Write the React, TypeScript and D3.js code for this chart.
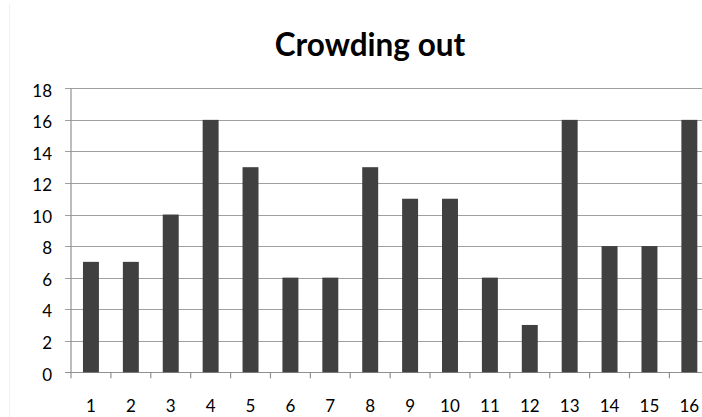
import React from "react";
import * as d3 from "d3";

const categories: string[] = ["1","2","3","4","5","6","7","8","9","10","11","12","13","14","15","16"];
const values: number[] = [7, 7, 10, 16, 13, 6, 6, 13, 11, 11, 6, 3, 16, 8, 8, 16];
const yTicks: number[] = [0, 2, 4, 6, 8, 10, 12, 14, 16, 18];
const title = "Crowding out";

const W = 702;
const H = 417;
const FONT = "Lato, Carlito, Calibri, sans-serif";

export default function App() {
  const left = 71;
  const right = 709.3;
  const top = 88.3;
  const bottom = 372.3;

  const x = d3.scaleBand<string>().domain(categories).range([left, right]).padding(0);
  const y = d3.scaleLinear().domain([0, 18]).range([bottom, top]);
  const barW = x.bandwidth() * 0.4;

  return (
    <svg
      width={W}
      height={H}
      style={{ position: "absolute", left: 0, top: 0, background: "#fff" }}
    >
      {/* chart frame edge */}
      <line x1={9.5} x2={9.5} y1={4} y2={H} stroke="#f0f0f0" strokeWidth={1} />

      <text
        x={370}
        y={56}
        textAnchor="middle"
        fontFamily={FONT}
        fontWeight="bold"
        fontSize={31.5}
        fill="#000"
      >
        {title}
      </text>

      {/* horizontal gridlines and y ticks */}
      {yTicks.map((t) => (
        <g key={t}>
          <line
            x1={left - 6}
            x2={right}
            y1={Math.round(y(t)) + 0.5}
            y2={Math.round(y(t)) + 0.5}
            stroke={t === 0 ? "#909090" : "#a0a0a0"}
            strokeWidth={1.2}
          />
          <text
            x={52}
            y={y(t) + 8.2}
            textAnchor="end"
            fontFamily={FONT}
            fontSize={17}
            fill="#000"
          >
            {t}
          </text>
        </g>
      ))}

      {/* bars */}
      {categories.map((c, i) => (
        <rect
          key={c}
          x={(x(c) as number) + (x.bandwidth() - barW) / 2}
          y={y(values[i])}
          width={barW}
          height={y(0) - y(values[i])}
          fill="#404040"
        />
      ))}

      {/* y axis line */}
      <line x1={left} x2={left} y1={top} y2={bottom + 6} stroke="#909090" strokeWidth={1.2} />

      {/* category tick marks and labels */}
      {categories.map((c) => (
        <g key={c}>
          <line
            x1={(x(c) as number) + x.bandwidth()}
            x2={(x(c) as number) + x.bandwidth()}
            y1={bottom}
            y2={bottom + 6}
            stroke="#909090"
            strokeWidth={1.2}
          />
          <text
            x={(x(c) as number) + x.bandwidth() / 2}
            y={411.7}
            textAnchor="middle"
            fontFamily={FONT}
            fontSize={17}
            fill="#000"
          >
            {c}
          </text>
        </g>
      ))}
    </svg>
  );
}
